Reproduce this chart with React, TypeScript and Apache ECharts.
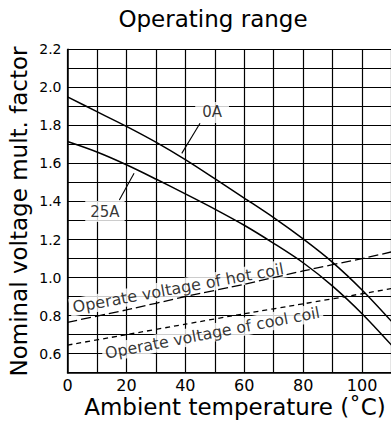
import React, { useEffect, useRef } from "react";
import * as echarts from "echarts";

// Ambient temperature (°C)
const temps = [0, 10, 20, 30, 40, 50, 60, 70, 80, 90, 100, 110];
// Nominal voltage multiplication factor at 0 A and 25 A contact current
const factor0A = [1.95, 1.872, 1.795, 1.712, 1.62, 1.52, 1.418, 1.315, 1.203, 1.08, 0.935, 0.77];
const factor25A = [1.715, 1.66, 1.593, 1.518, 1.44, 1.36, 1.275, 1.18, 1.078, 0.955, 0.81, 0.645];
// Operate voltage lines
const coilTemps = [0, 20, 40, 60, 80, 100, 110];
const hotCoil = [0.765, 0.83, 0.9, 0.965, 1.035, 1.1, 1.135];
const coolCoil = [0.645, 0.7, 0.755, 0.81, 0.862, 0.915, 0.942];

// Annotation anchors (data units)
const label0A = [49.1, 1.868];
const label25A = [12.7, 1.347];
const leader0A = [[45.0, 1.811], [38.8, 1.653]];
const leader25A = [[17.6, 1.408], [22.6, 1.548]];
const labelHot = [37.6, 0.945];
const labelCool = [49.2, 0.71];

const FONT = "DejaVu Sans";

const pairs = (xs: number[], ys: number[]) => xs.map((x, i) => [x, ys[i]]);

function buildOption() {
  const curve = (name: string, ys: number[]) => ({
    name,
    type: "line",
    data: pairs(temps, ys),
    smooth: 0.3,
    showSymbol: false,
    symbol: "none",
    silent: true,
    z: 3,
    lineStyle: { color: "#000", width: 1.5 },
  });
  const dashed = (name: string, ys: number[], dash: number[]) => ({
    name,
    type: "line",
    data: pairs(coilTemps, ys),
    smooth: 0.2,
    showSymbol: false,
    symbol: "none",
    silent: true,
    z: 3,
    lineStyle: { color: "#000", width: 1.3, type: dash },
  });
  const leader = (name: string, pts: number[][]) => ({
    name,
    type: "line",
    data: pts,
    showSymbol: false,
    symbol: "none",
    silent: true,
    z: 3,
    lineStyle: { color: "#000", width: 1.1 },
  });
  const annot = (text: string, pos: number[], rotate: number, size: number, padding: number[]) => ({
    value: pos,
    name: text,
    label: {
      show: true,
      position: "inside",
      formatter: text,
      rotate,
      color: "#000",
      fontFamily: FONT,
      fontSize: size,
      backgroundColor: "#fff",
      padding,
    },
  });

  return {
    animation: false,
    backgroundColor: "#fff",
    grid: {
      left: 67.5,
      top: 49.3,
      width: 324,
      height: 323.4,
      containLabel: false,
      outerBoundsMode: "none",
    },
    xAxis: {
      type: "value",
      min: 0,
      max: 110,
      interval: 10,
      axisLine: { show: true, onZero: false, lineStyle: { color: "#000", width: 1.5 } },
      axisTick: { show: false },
      splitLine: { show: true, lineStyle: { color: "#000", width: 1.2 } },
      axisLabel: {
        color: "#000",
        fontFamily: FONT,
        fontSize: 16,
        margin: 5,
        showMaxLabel: true,
        formatter: (v: number) => (Math.round(v / 10) % 2 === 0 ? String(Math.round(v)) : ""),
      },
    },
    yAxis: {
      type: "value",
      min: 0.5,
      max: 2.2,
      interval: 0.1,
      axisLine: { show: true, onZero: false, lineStyle: { color: "#000", width: 1.5 } },
      axisTick: { show: false },
      splitLine: { show: true, lineStyle: { color: "#000", width: 1.2 } },
      axisLabel: {
        color: "#000",
        fontFamily: FONT,
        fontSize: 14,
        margin: 6,
        showMaxLabel: true,
        showMinLabel: true,
        formatter: (v: number) => (Math.round(v * 10) % 2 === 0 ? v.toFixed(1) : ""),
      },
    },
    graphic: [
      {
        type: "text",
        x: 213,
        y: 18.5,
        style: {
          text: "Operating range",
          fill: "#000",
          font: `23px "${FONT}"`,
          align: "center",
          verticalAlign: "middle",
          textAlign: "center",
          textVerticalAlign: "middle",
        },
      },
      {
        type: "text",
        x: 235,
        y: 406.5,
        style: {
          text: "Ambient temperature (˚C)",
          fill: "#000",
          font: `23px "${FONT}"`,
          align: "center",
          verticalAlign: "middle",
          textAlign: "center",
          textVerticalAlign: "middle",
        },
      },
      {
        type: "text",
        x: 18.5,
        y: 211.5,
        rotation: Math.PI / 2,
        style: {
          text: "Nominal voltage mult. factor",
          fill: "#000",
          font: `23px "${FONT}"`,
          align: "center",
          verticalAlign: "middle",
          textAlign: "center",
          textVerticalAlign: "middle",
        },
      },
    ],
    series: [
      {
        name: "annotations",
        type: "scatter",
        symbolSize: 1,
        silent: true,
        z: 2,
        itemStyle: { color: "rgba(0,0,0,0)" },
        data: [
          annot("0A", label0A, 0, 15, [3, 7]),
          annot("25A", label25A, 0, 15, [3, 5]),
          annot("Operate voltage of hot coil", labelHot, 10.4, 16, [1, 3]),
          annot("Operate voltage of cool coil", labelCool, 10.9, 15.8, [1, 3]),
        ],
      },
      curve("0A", factor0A),
      curve("25A", factor25A),
      dashed("Operate voltage of hot coil", hotCoil, [10, 4]),
      dashed("Operate voltage of cool coil", coolCoil, [5, 4]),
      leader("leader 0A", leader0A),
      leader("leader 25A", leader25A),
    ],
  };
}

export default function App() {
  const ref = useRef<HTMLDivElement>(null);
  useEffect(() => {
    if (!ref.current) return;
    const chart = echarts.init(ref.current, null, { renderer: "svg" });
    chart.setOption(buildOption() as any);
    return () => chart.dispose();
  }, []);
  return (
    <div
      ref={ref}
      style={{ position: "fixed", left: 0, top: 0, width: 391, height: 429, background: "#fff" }}
    />
  );
}
